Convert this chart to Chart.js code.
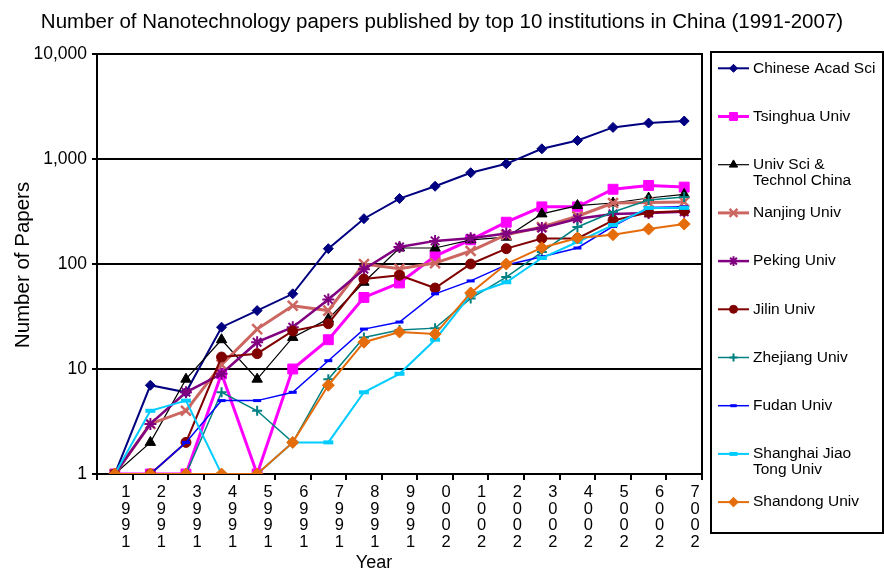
<!DOCTYPE html>
<html>
<head>
<meta charset="utf-8">
<script src="https://cdn.jsdelivr.net/npm/chart.js@4.4.1/dist/chart.umd.min.js"></script>
<style>
  html, body { margin: 0; padding: 0; background: #fff; }
  canvas { display: block; }
</style>
</head>
<body>
<canvas id="chart" width="884" height="571"></canvas>
<script>
// Datos del gráfico
const chartTitle = 'Number of Nanotechnology papers published by top 10 institutions in China (1991-2007)';
const years = [1991, 1992, 1993, 1994, 1995, 1996, 1997, 1998, 1999, 2000, 2001, 2002, 2003, 2004, 2005, 2006, 2007];
const yTicks = [1, 10, 100, 1000, 10000];

const seriesNames = [
  'Chinese Acad Sci', 'Tsinghua Univ', 'Univ Sci & Technol China', 'Nanjing Univ', 'Peking Univ',
  'Jilin Univ', 'Zhejiang Univ', 'Fudan Univ', 'Shanghai Jiao Tong Univ', 'Shandong Univ'
];

const casValues      = [1, 7, 6, 25, 36, 52, 140, 270, 420, 550, 740, 900, 1250, 1500, 2000, 2200, 2300];
const tsinghuaValues = [1, 1, 1, 9, 1, 10, 19, 48, 66, 119, 170, 250, 350, 350, 515, 560, 540];
const ustcValues     = [1, 2, 8, 19, 8, 20, 30, 67, 142, 142, 170, 180, 300, 360, 381, 425, 460];
const nanjingValues  = [1, 3, 4, 11, 24, 40, 36, 100, 90, 102, 133, 190, 225, 285, 381, 385, 390];
const pekingValues   = [1, 3, 6, 9, 18, 25, 46, 89, 145, 166, 176, 195, 220, 270, 300, 306, 315];
const jilinValues    = [1, 1, 2, 13, 14, 23, 27, 72, 78, 59, 100, 140, 175, 175, 260, 310, 320];
const zhejiangValues = [1, 1, 1, 6, 4, 2, 8, 20, 23.5, 24.5, 47, 75, 130, 225, 313, 406, 434];
const fudanValues    = [1, 1, 2, 5, 5, 6, 12, 24, 28, 52, 69, 98, 117, 142, 228, 345, 350];
const sjtuValues     = [1, 4, 5, 1, 1, 2, 2, 6, 9, 19, 51, 67, 114, 162, 235, 342, 342];
const shandongValues = [1, 1, 1, 1, 1, 2, 7, 18, 22.5, 21.5, 53, 100, 143, 177, 190, 215, 240];

const seriesValues = [casValues, tsinghuaValues, ustcValues, nanjingValues, pekingValues,
  jilinValues, zhejiangValues, fudanValues, sjtuValues, shandongValues];

// Estilos de cada serie
const seriesStyles = [
  { color: '#000080', width: 2,   point: 'rectRot',  r: 5,   pw: 1 },
  { color: '#FF00FF', width: 3,   point: 'rect',     r: 7,   pw: 1 },
  { color: '#000000', width: 1.2, point: 'triangle', r: 6,   pw: 1 },
  { color: '#CC6660', width: 3,   point: 'crossRot', r: 7,   pw: 2.5 },
  { color: '#800080', width: 2.5, point: 'star',     r: 6,   pw: 2 },
  { color: '#800000', width: 2,   point: 'circle',   r: 5,   pw: 1 },
  { color: '#008080', width: 1.5, point: 'cross',    r: 5,   pw: 2 },
  { color: '#0000FF', width: 1.5, point: 'line',     r: 4,   pw: 3 },
  { color: '#00CCFF', width: 2,   point: 'line',     r: 5,   pw: 4 },
  { color: '#E46C0A', width: 2,   point: 'rectRot',  r: 6,   pw: 1 }
];

const fontFamily = '"Liberation Sans", Arial, Helvetica, sans-serif';
Chart.defaults.font.family = fontFamily;
Chart.defaults.color = '#000';

// Etiquetas del eje X: dígitos apilados (texto girado)
const yearLabels = years.map(y => String(y).split('').reverse());

const datasets = seriesNames.map((name, i) => {
  const st = seriesStyles[i];
  return {
    label: name,
    data: seriesValues[i],
    borderColor: st.color,
    backgroundColor: st.color,
    borderWidth: st.width,
    pointStyle: st.point,
    pointRadius: st.r,
    pointBorderWidth: st.pw,
    pointBackgroundColor: st.color,
    pointBorderColor: st.color,
    fill: false,
    tension: 0,
    order: seriesNames.length - i
  };
});

// Partir texto en líneas
function wrapText(ctx, text, maxWidth) {
  const words = text.split(' ');
  const lines = [];
  let line = '';
  words.forEach(w => {
    const test = line ? line + ' ' + w : w;
    if (line && ctx.measureText(test).width > maxWidth) {
      lines.push(line);
      line = w;
    } else {
      line = test;
    }
  });
  if (line) lines.push(line);
  return lines;
}

// Plugin: título, ejes, marco y leyenda
const decorPlugin = {
  id: 'decor',
  afterDraw(chart) {
    const ctx = chart.ctx;
    const area = chart.chartArea;
    ctx.save();

    // marco derecho
    ctx.strokeStyle = '#000';
    ctx.lineWidth = 2;
    ctx.beginPath();
    ctx.moveTo(area.right, area.top - 1);
    ctx.lineTo(area.right, area.bottom);
    ctx.stroke();

    // título
    ctx.fillStyle = '#000';
    ctx.textAlign = 'center';
    ctx.textBaseline = 'alphabetic';
    ctx.font = '20.5px ' + fontFamily;
    ctx.fillText(chartTitle, 442, 28);

    // título eje X
    ctx.font = '18px ' + fontFamily;
    ctx.fillText('Year', 374, 568);

    // título eje Y
    ctx.save();
    ctx.translate(29, 265);
    ctx.rotate(-Math.PI / 2);
    ctx.font = '20.5px ' + fontFamily;
    ctx.fillText('Number of Papers', 0, 0);
    ctx.restore();

    // leyenda
    ctx.lineWidth = 2;
    ctx.strokeStyle = '#000';
    ctx.strokeRect(711, 52, 172, 481);

    ctx.font = '15.5px ' + fontFamily;
    ctx.textAlign = 'left';
    ctx.textBaseline = 'middle';
    chart.data.datasets.forEach((ds, i) => {
      const y = 68.3 + i * 48.2;
      ctx.strokeStyle = ds.borderColor;
      ctx.lineWidth = ds.borderWidth;
      ctx.beginPath();
      ctx.moveTo(718, y);
      ctx.lineTo(749, y);
      ctx.stroke();

      ctx.fillStyle = ds.pointBackgroundColor;
      ctx.strokeStyle = ds.pointBorderColor;
      ctx.lineWidth = ds.pointBorderWidth;
      if (Chart.helpers && Chart.helpers.drawPoint) {
        Chart.helpers.drawPoint(ctx, {
          pointStyle: ds.pointStyle,
          radius: ds.pointRadius * 0.8,
          rotation: 0,
          borderWidth: ds.pointBorderWidth
        }, 733.5, y);
      }

      ctx.fillStyle = '#000';
      const lines = wrapText(ctx, ds.label, 126);
      lines.forEach((l, k) => ctx.fillText(l, 753, y + k * 16));
    });

    ctx.restore();
  }
};

new Chart(document.getElementById('chart'), {
  type: 'line',
  data: {
    labels: yearLabels,
    datasets: datasets
  },
  options: {
    responsive: false,
    animation: false,
    layout: {
      padding: { top: 54, right: 182, left: 0, bottom: 0 }
    },
    plugins: {
      legend: { display: false },
      title: { display: false },
      tooltip: { enabled: false }
    },
    scales: {
      x: {
        type: 'category',
        offset: true,
        afterFit: scale => { scale.height = 97; },
        grid: {
          offset: true,
          drawOnChartArea: false,
          color: '#000',
          lineWidth: 2,
          tickLength: 6
        },
        border: { color: '#000', width: 2 },
        ticks: {
          autoSkip: false,
          maxRotation: 0,
          minRotation: 0,
          labelOffset: 11,
          padding: 4,
          color: '#000',
          font: { size: 16.5, lineHeight: 1.01 }
        }
      },
      y: {
        type: 'logarithmic',
        min: 1,
        max: 10000,
        afterBuildTicks: scale => {
          scale.ticks = yTicks.map(v => ({ value: v }));
        },
        afterFit: scale => { scale.width = 97; },
        grid: {
          color: '#000',
          lineWidth: 2,
          tickLength: 5
        },
        border: { color: '#000', width: 2 },
        ticks: {
          autoSkip: false,
          padding: 5,
          color: '#000',
          font: { size: 17.5 },
          callback: value => Number(value).toLocaleString('en-US')
        }
      }
    }
  },
  plugins: [decorPlugin]
});
</script>
</body>
</html>
